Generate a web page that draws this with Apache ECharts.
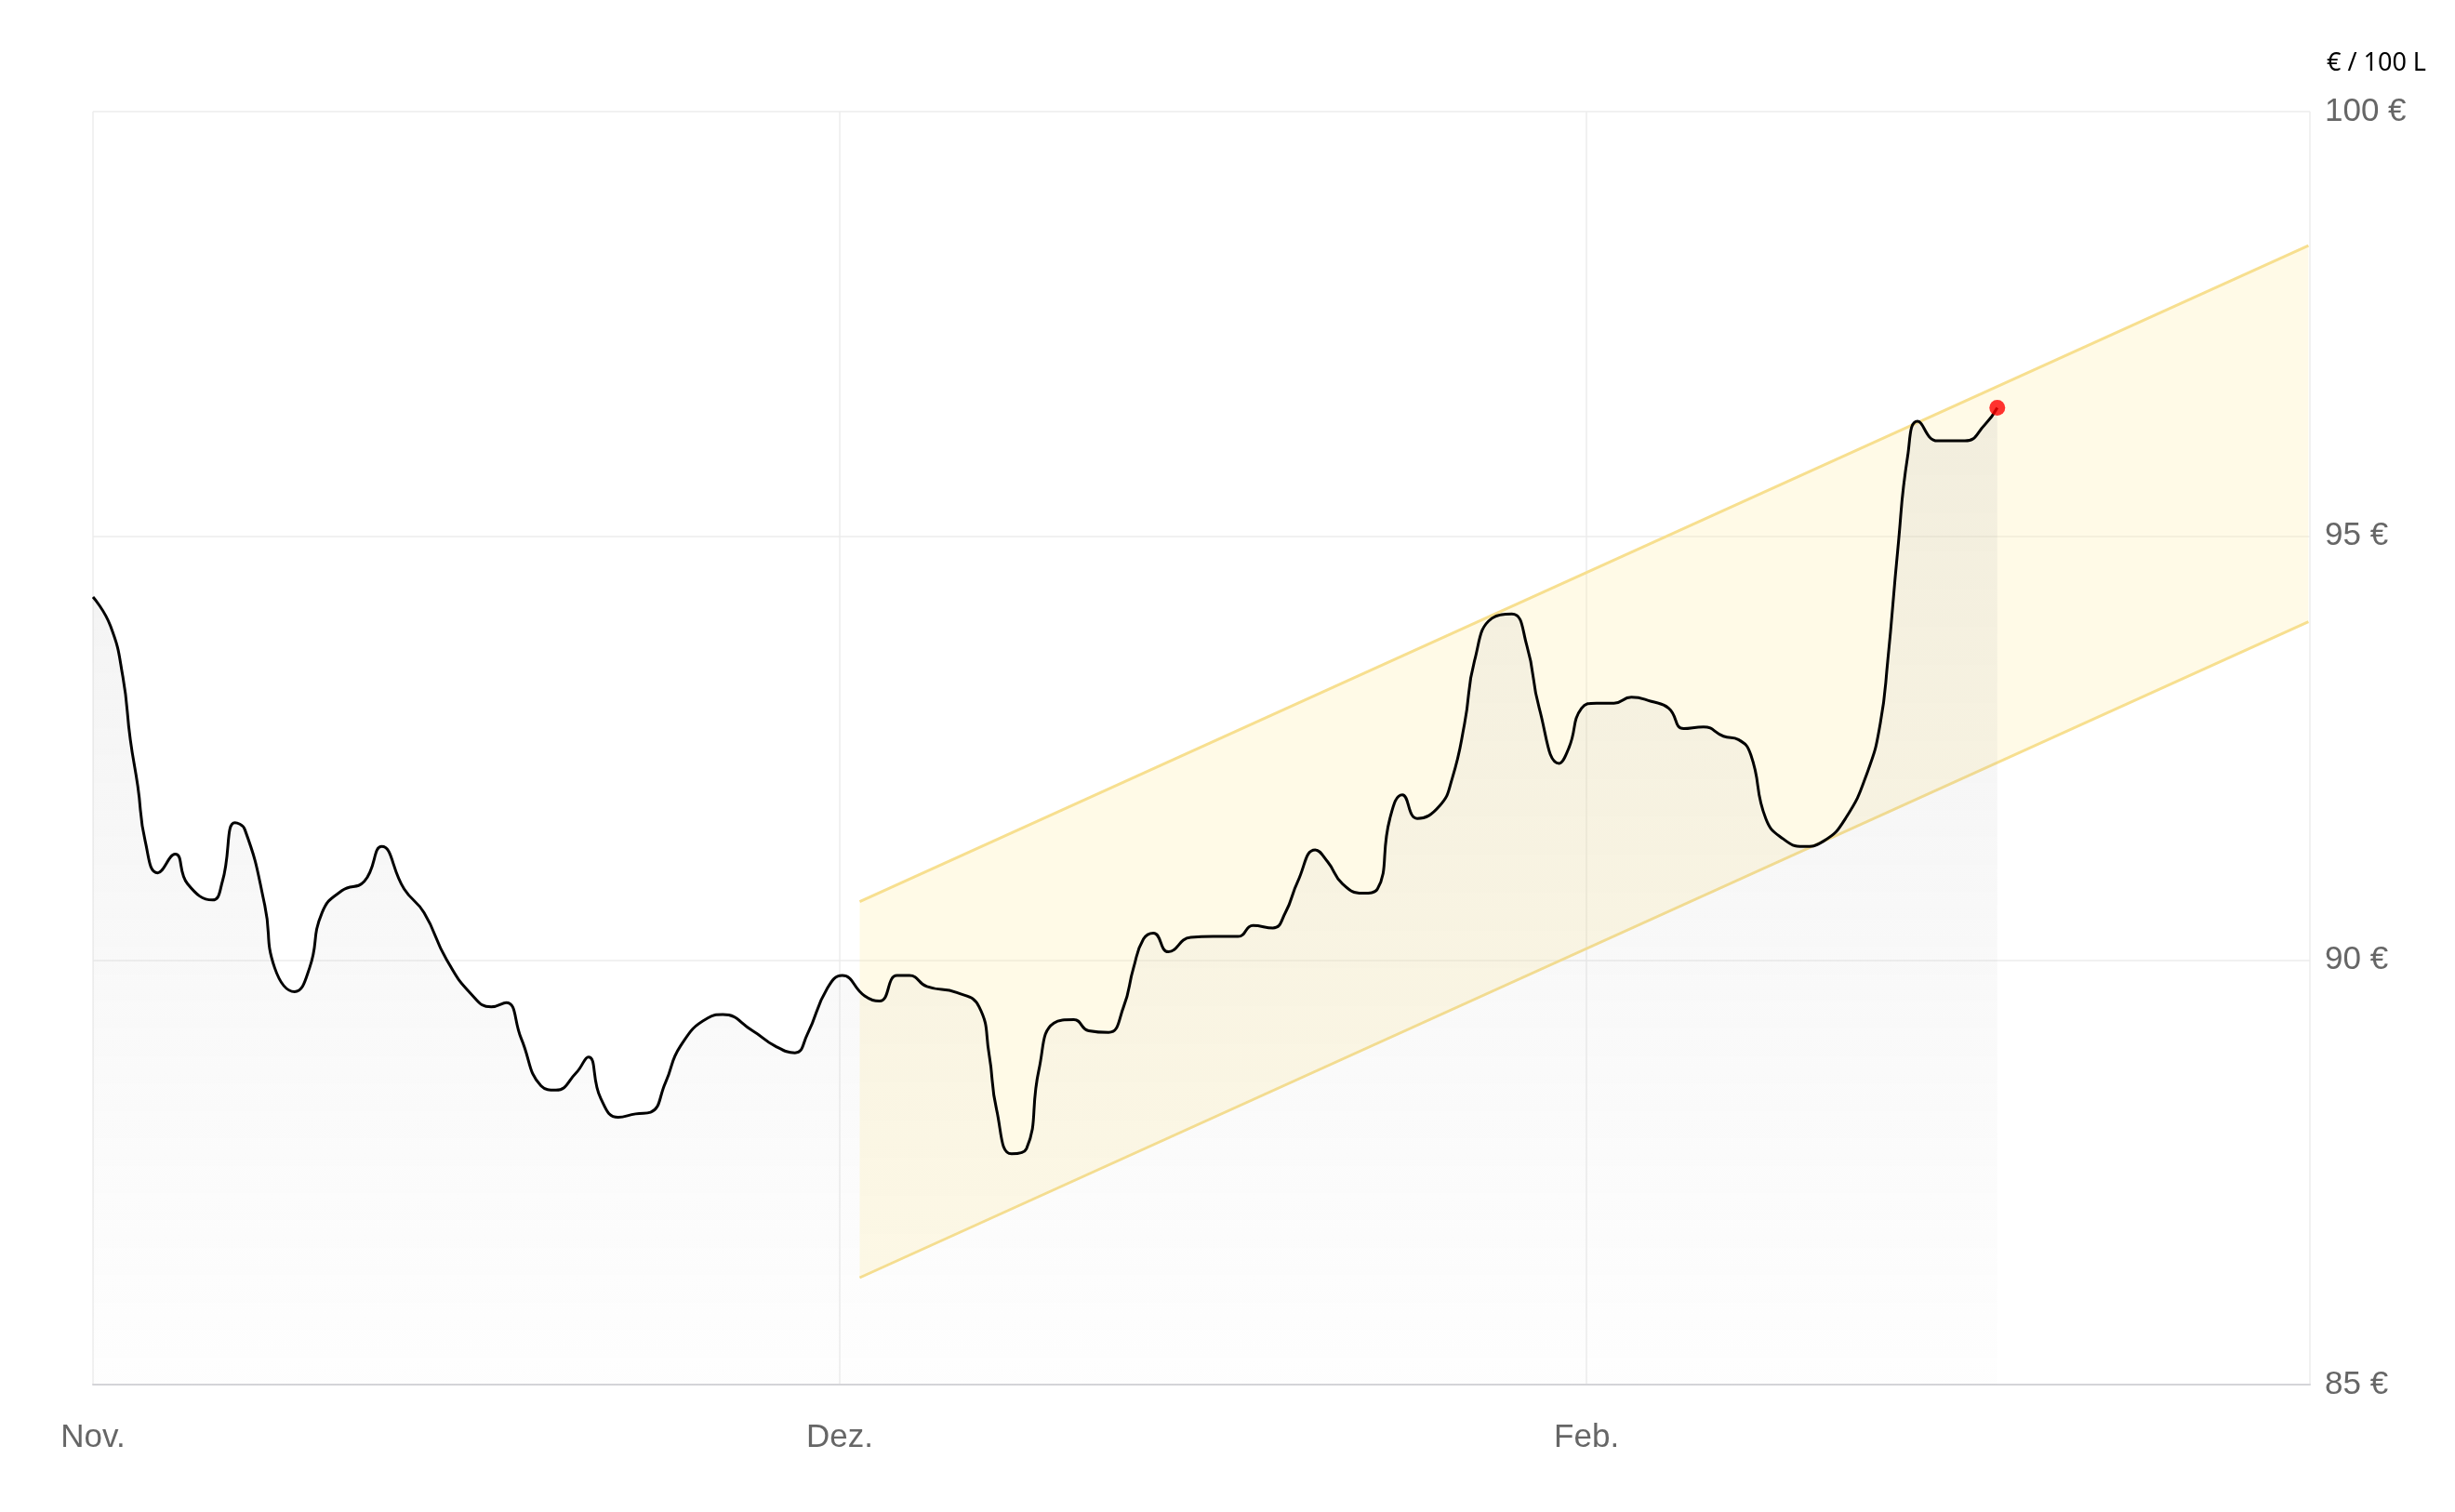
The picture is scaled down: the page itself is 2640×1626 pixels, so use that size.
<!DOCTYPE html>
<html>
<head>
<meta charset="utf-8">
<script src="https://cdn.jsdelivr.net/npm/echarts@6/dist/echarts.min.js"></script>
<style>html,body{margin:0;padding:0;background:#fff}#chart{width:2640px;height:1626px}</style>
</head>
<body>
<div id="chart"></div>
<script>
// days since 1 Nov (Dez at 30, Feb drawn at 60)
var days = [0,0.7,1.2,1.5,1.8,2.1,2.6,3.3,3.8,4.8,5.2,5.7,6.1,6.9,7.3,8.1,8.7,9.2,10.0,10.9,11.6,12.5,13.3,14.2,15.2,16.0,16.6,17.2,18.0,18.6,19.4,19.9,20.4,21.1,21.8,22.4,23.0,23.6,24.7,25.3,26.5,27.4,28.2,28.7,29.5,30.1,31.0,31.6,32.3,32.8,33.5,34.7,35.6,36.0,36.3,36.9,37.5,38.0,38.6,39.4,40.0,40.8,41.4,41.8,42.2,42.6,43.2,44.1,45.0,46.0,46.6,47.4,47.9,48.4,49.1,49.6,50.2,51.0,51.6,52.1,52.6,53.2,54.1,54.6,55.1,55.5,56.2,57.0,57.6,58.1,58.9,59.3,59.8,60.4,61.1,61.8,62.6,63.3,63.9,64.7,65.5,66.1,66.6,67.2,67.9,68.7,69.5,70.4,71.3,71.8,72.1,72.5,72.9,73.3,74.1,75.2,76.0,76.5];
var prices = [94.28,93.94,93.34,92.60,92.05,91.40,91.03,91.25,90.90,90.71,90.93,91.62,91.54,90.65,89.91,89.63,89.91,90.56,90.82,90.93,91.34,90.84,90.56,90.01,89.60,89.45,89.50,89.08,88.52,88.47,88.67,88.86,88.37,88.15,88.19,88.21,88.56,88.99,89.32,89.36,89.17,88.99,88.91,89.13,89.67,89.82,89.58,89.52,89.82,89.82,89.69,89.62,89.45,88.89,88.24,87.72,87.78,88.71,89.26,89.30,89.17,89.15,89.45,89.91,90.25,90.32,90.10,90.27,90.28,90.28,90.41,90.38,90.56,90.93,91.30,91.16,90.90,90.79,90.84,91.67,91.95,91.67,91.82,92.14,92.79,93.53,94.03,94.08,93.71,92.97,92.32,92.51,92.97,93.03,93.03,93.10,93.05,92.97,92.73,92.75,92.64,92.60,92.42,91.67,91.43,91.34,91.40,91.67,92.23,92.79,93.53,94.83,95.94,96.35,96.12,96.12,96.31,96.51];
var channelDays = [30.8, 89.0];
var channelLower = [86.26, 93.99];
var channelUpper = [90.69, 98.42];
var monthTicks = {0: 'Nov.', 30: 'Dez.', 60: 'Feb.'};

var line = days.map(function (d, i) { return [d, prices[i]]; });
var band = [[channelDays[0], channelLower[0], channelUpper[0], channelDays[1], channelLower[1], channelUpper[1]]];
var last = line[line.length - 1];

var chart = echarts.init(document.getElementById('chart'));
chart.setOption({
  animation: false,
  title: {
    text: '€ / 100 L', right: 26, top: 50,
    textStyle: {color: '#000', fontSize: 27, fontWeight: 'normal', fontFamily: 'Noto Sans'}
  },
  grid: {left: 100, right: 156, top: 120, bottom: 137},
  xAxis: {
    type: 'value', min: 0, max: 89.06, interval: 30,
    axisLine: {show: true, lineStyle: {color: '#d4d4d8', width: 2}},
    axisTick: {show: false},
    splitLine: {show: true, lineStyle: {color: '#ececec', width: 1.5}},
    axisLabel: {
      showMaxLabel: false, margin: 40, color: '#666', fontSize: 35, fontFamily: 'Liberation Sans',
      formatter: function (v) { return monthTicks[v] || ''; }
    }
  },
  yAxis: {
    type: 'value', position: 'right', min: 85, max: 100, interval: 5,
    axisLine: {show: false}, axisTick: {show: false},
    splitLine: {lineStyle: {color: '#ececec', width: 1.5}},
    axisLabel: {color: '#666', fontSize: 35, margin: 16, fontFamily: 'Liberation Sans', formatter: '{value} €'}
  },
  series: [
    {
      type: 'custom', data: band, z: 2,
      renderItem: function (params, api) {
        var a = api.coord([api.value(0), api.value(1)]);
        var b = api.coord([api.value(0), api.value(2)]);
        var c = api.coord([api.value(3), api.value(5)]);
        var d = api.coord([api.value(3), api.value(4)]);
        return {
          type: 'group',
          children: [
            {type: 'polygon', shape: {points: [a, b, c, d]}, style: {fill: 'rgba(255,238,170,0.28)'}},
            {type: 'line', shape: {x1: a[0], y1: a[1], x2: d[0], y2: d[1]}, style: {stroke: '#f7df8f', lineWidth: 3}},
            {type: 'line', shape: {x1: b[0], y1: b[1], x2: c[0], y2: c[1]}, style: {stroke: '#f7df8f', lineWidth: 3}}
          ]
        };
      }
    },
    {
      type: 'line', data: line, smooth: 0.5, symbol: 'none',
      lineStyle: {color: '#000', width: 3},
      areaStyle: {
        origin: 'start',
        color: new echarts.graphic.LinearGradient(0, 0, 0, 1, [
          {offset: 0, color: 'rgba(170,170,170,0.22)'},
          {offset: 1, color: 'rgba(170,170,170,0.02)'}
        ])
      },
      z: 3
    },
    {
      type: 'scatter', data: [last], symbolSize: 17,
      itemStyle: {color: '#ff0000'}, z: 4
    }
  ]
});
</script>
</body>
</html>
